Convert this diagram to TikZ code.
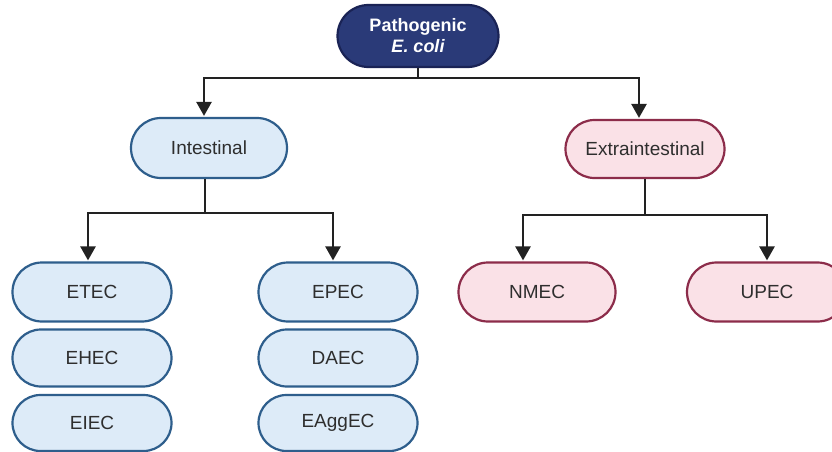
\documentclass[tikz,border=0pt]{standalone}
\usepackage{fontspec}
\setmainfont{Liberation Sans}
\usetikzlibrary{shapes.misc,arrows.meta}
\definecolor{navyfill}{HTML}{2A3A78}
\definecolor{navyline}{HTML}{1A2355}
\definecolor{bluefill}{HTML}{DDEBF8}
\definecolor{blueline}{HTML}{2E5E8C}
\definecolor{pinkfill}{HTML}{FAE1E7}
\definecolor{pinkline}{HTML}{8C2C4A}
\definecolor{linkcol}{HTML}{222222}
\tikzset{
  pill/.style={rounded rectangle, line width=2.2pt, inner sep=0pt, font=\fontsize{19}{21}\selectfont, text=black!82},
  bluepill/.style={pill, draw=blueline, fill=bluefill},
  pinkpill/.style={pill, draw=pinkline, fill=pinkfill},
  toppill/.style={pill, draw=navyline, fill=navyfill, text=white, align=center, font=\fontsize{18}{21}\selectfont\bfseries},
  link/.style={draw=linkcol, line width=2.5pt},
  arrowlink/.style={link, -{Triangle[width=15pt,length=14pt]}, shorten >=1pt}
}
\begin{document}
\begin{tikzpicture}[x=1pt,y=-1pt]
\clip (0,0) rectangle (832,452);
\fill[white] (0,0) rectangle (832,452);
% nodes
\node[toppill, minimum width=161pt, minimum height=62pt] (top) at (418,36) {Pathogenic\\\itshape E. coli};
\node[bluepill, minimum width=156pt, minimum height=60pt] (int) at (209,148) {Intestinal};
\node[pinkpill, minimum width=159pt, minimum height=58pt] (ext) at (645,149) {Extraintestinal};
\node[bluepill, minimum width=159pt, minimum height=59pt] (etec) at (92,292) {ETEC};
\node[bluepill, minimum width=159pt, minimum height=57pt] (ehec) at (92,358) {EHEC};
\node[bluepill, minimum width=159pt, minimum height=56pt] (eiec) at (92,423) {EIEC};
\node[bluepill, minimum width=159pt, minimum height=59pt] (epec) at (338,292) {EPEC};
\node[bluepill, minimum width=159pt, minimum height=57pt] (daec) at (338,358) {DAEC};
\node[bluepill, minimum width=159pt, minimum height=56pt] (eaggec) at (338,423) {EAggEC};
\node[pinkpill, minimum width=157pt, minimum height=59pt] (nmec) at (537,292) {NMEC};
\node[pinkpill, minimum width=160pt, minimum height=59pt] (upec) at (767,292) {UPEC};
% junctions
\coordinate (j1) at (418,78);
\coordinate (j2) at (205,213);
\coordinate (j3) at (645,215);
% connectors
\draw[link] (top.south) -- (j1);
\draw[arrowlink] (j1) -| ([xshift=-5pt]int.north);
\draw[arrowlink] (j1) -| ([xshift=-6pt]ext.north);
\draw[link] ([xshift=-4pt]int.south) -- (j2);
\draw[arrowlink] (j2) -| ([xshift=-4pt]etec.north);
\draw[arrowlink] (j2) -| ([xshift=-5pt]epec.north);
\draw[link] (ext.south) -- (j3);
\draw[arrowlink] (j3) -| ([xshift=-14pt]nmec.north);
\draw[arrowlink] (j3) -| (upec.north);
\end{tikzpicture}
\end{document}
